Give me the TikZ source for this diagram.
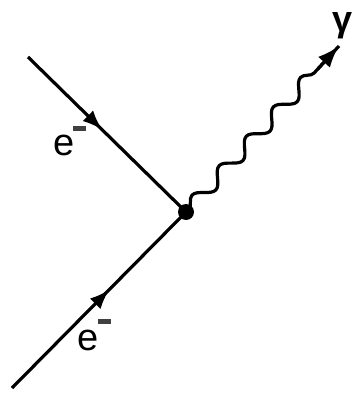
\documentclass[tikz,border=0pt]{standalone}
\usepackage{fontspec}
\setmainfont{Liberation Sans}
\usetikzlibrary{arrows.meta,decorations.markings,decorations.pathmorphing,calc}
\begin{document}
\begin{tikzpicture}[x=1pt,y=-1pt,
  fermion/.style={line width=3.2pt,
    postaction={decorate},
    decoration={markings,mark=at position #1 with {\arrow{Latex[length=20pt,width=15pt]}}}},
  photon/.style={line width=3.2pt,
    decorate,decoration={snake,segment length=40pt,amplitude=7pt,pre length=4pt,post length=18pt}},
  lbl/.style={inner sep=0pt,font=\fontsize{38}{38}\selectfont},
  sup/.style={fill=black!75,minimum width=13pt,minimum height=5pt,inner sep=0pt,draw=none}]
\useasboundingbox (0,0) rectangle (358,393);
\coordinate (a) at (28,57);
\coordinate (b) at (12,388);
\coordinate (g) at (339,46);
\node[circle,fill=black,minimum size=16pt,inner sep=0pt] (v) at (186,212) {};
\draw[fermion=0.47] (a) -- (v.center);
\draw[fermion=0.56] (b) -- (v.center);
\draw[photon] (v.center) -- (g);
\coordinate (gs) at ($(g)!0.14!(v.center)$);
\draw[line width=3.2pt,-{Latex[length=22pt,width=16pt]}] (gs) -- (g);
\node[lbl] (e1) at (64,145) {e};
\node[sup] (m1) at (79,128) {};
\node[lbl] (e2) at (88,340) {e};
\node[sup] (m2) at (104,321) {};
\node[inner sep=0pt,font=\fontsize{36}{36}\bfseries] (gam) at (343,26) {γ};
\end{tikzpicture}
\end{document}
